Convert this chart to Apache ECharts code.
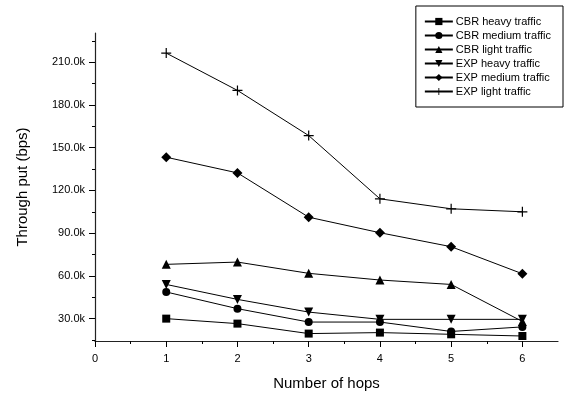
<!DOCTYPE html>
<html>
<head>
<meta charset="utf-8">
<script src="https://cdn.jsdelivr.net/npm/echarts@6/dist/echarts.min.js"></script>
<style>
  html, body { margin: 0; padding: 0; background: #fff; }
  #chart { width: 566px; height: 396px; }
</style>
</head>
<body>
<div id="chart"></div>
<script>
// Number of hops on the horizontal axis
const hops = [1, 2, 3, 4, 5, 6];

// Throughput in bps for each traffic scenario
const cbrHeavy  = [30000, 26500, 19500, 20200, 19000, 17800];
const cbrMedium = [48700, 37000, 27600, 27600, 21000, 24200];
const cbrLight  = [68100, 69700, 61800, 57100, 54000, 28000];
const expHeavy  = [54000, 43500, 34600, 29500, 29500, 29500];
const expMedium = [143300, 132300, 101200, 90300, 80500, 61500];
const expLight  = [216400, 190200, 158500, 114100, 107100, 105000];

// Tick positions
const yMajor = [30000, 60000, 90000, 120000, 150000, 180000, 210000];
const yMinor = [15000, 45000, 75000, 105000, 135000, 165000, 195000, 225000];
const xMajor = [0, 1, 2, 3, 4, 5, 6];
const xMinor = [0.5, 1.5, 2.5, 3.5, 4.5, 5.5];

const FONT = 'Liberation Sans';
const plus = 'path://M4.4,0H5.6V4.4H10V5.6H5.6V10H4.4V5.6H0V4.4H4.4Z';

function pairs(vals) { return hops.map((h, i) => [h, vals[i]]); }

function line(name, vals, symbol, size, rotate) {
  return {
    name: name,
    type: 'line',
    data: pairs(vals),
    symbol: symbol,
    symbolSize: size,
    symbolRotate: rotate || 0,
    showSymbol: true,
    lineStyle: { color: '#000', width: 1 },
    itemStyle: { color: '#000', borderWidth: 0 },
    emphasis: { disabled: true },
    animation: false
  };
}

const axisLineStyle = { show: true, lineStyle: { color: '#222', width: 1.2 } };

const option = {
  backgroundColor: '#fff',
  animation: false,
  grid: { left: 95, right: 8, top: 33, bottom: 54 },
  legend: {
    orient: 'vertical',
    right: 3,
    top: 6,
    itemWidth: 28,
    itemHeight: 9,
    itemGap: 3,
    padding: [10, 12, 10, 8],
    borderColor: '#000',
    borderWidth: 1,
    backgroundColor: '#fff',
    textStyle: { fontFamily: FONT, fontSize: 11, color: '#000', padding: [0, 0, 0, -2] },
    data: ['CBR heavy traffic', 'CBR medium traffic', 'CBR light traffic',
           'EXP heavy traffic', 'EXP medium traffic', 'EXP light traffic']
  },
  xAxis: [
    {
      type: 'value', min: 0, max: 6.5, position: 'bottom',
      name: 'Number of hops', nameLocation: 'middle', nameGap: 35,
      nameTextStyle: { fontFamily: FONT, fontSize: 15, color: '#000' },
      axisLine: axisLineStyle,
      axisTick: { show: true, length: 6, customValues: xMajor, lineStyle: { color: '#000' } },
      axisLabel: { customValues: xMajor, margin: 12, fontFamily: FONT, fontSize: 11, color: '#000' },
      splitLine: { show: false }
    },
    {
      type: 'value', min: 0, max: 6.5, position: 'bottom',
      axisLine: { show: false },
      axisTick: { show: true, length: 3, customValues: xMinor, lineStyle: { color: '#000' } },
      axisLabel: { show: false },
      splitLine: { show: false }
    }
  ],
  yAxis: [
    {
      type: 'value', min: 14300, max: 230500, position: 'left',
      name: 'Through put (bps)', nameLocation: 'middle', nameGap: 65,
      nameTextStyle: { fontFamily: FONT, fontSize: 15, color: '#000' },
      axisLine: axisLineStyle,
      axisTick: { show: true, length: 6, customValues: yMajor, lineStyle: { color: '#000' } },
      axisLabel: {
        customValues: yMajor, margin: 10, fontFamily: FONT, fontSize: 11, color: '#000',
        formatter: v => (v / 1000).toFixed(1) + 'k'
      },
      splitLine: { show: false }
    },
    {
      type: 'value', min: 14300, max: 230500, position: 'left',
      axisLine: { show: false },
      axisTick: { show: true, length: 3, customValues: yMinor, lineStyle: { color: '#000' } },
      axisLabel: { show: false },
      splitLine: { show: false }
    }
  ],
  series: [
    line('CBR heavy traffic', cbrHeavy, 'rect', 8),
    line('CBR medium traffic', cbrMedium, 'circle', 8),
    line('CBR light traffic', cbrLight, 'triangle', 9),
    line('EXP heavy traffic', expHeavy, 'triangle', 9, 180),
    line('EXP medium traffic', expMedium, 'diamond', 10),
    line('EXP light traffic', expLight, plus, 10)
  ]
};

const chart = echarts.init(document.getElementById('chart'), null, { renderer: 'canvas' });
chart.setOption(option);
</script>
</body>
</html>
